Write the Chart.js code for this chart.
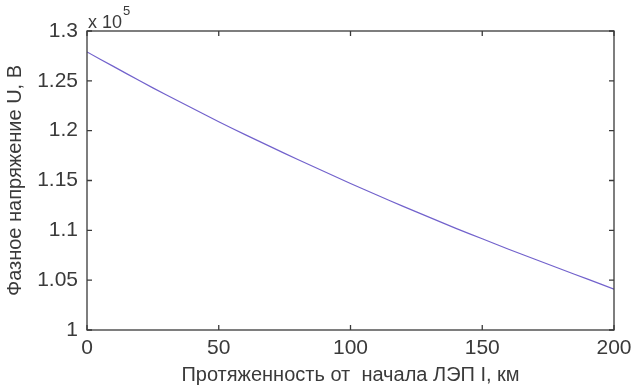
<!DOCTYPE html>
<html>
<head>
<meta charset="utf-8">
<script src="https://cdn.jsdelivr.net/npm/chart.js@4"></script>
<style>
  html, body { margin: 0; padding: 0; background: #fff; }
  #wrap { width: 631px; height: 390px; }
</style>
</head>
<body>
<div id="wrap"><canvas id="chart" width="631" height="390"></canvas></div>
<script>
// distance from the start of the line, km
const distanceKm = [0, 10, 20, 30, 40, 50, 60, 70, 80, 90, 100, 110, 120, 130, 140, 150, 160, 170, 180, 190, 200];
// phase voltage, V
const voltage = [127900, 126450, 125000, 123600, 122250, 120900, 119600, 118350, 117100, 115900, 114700,
                 113550, 112400, 111300, 110200, 109150, 108100, 107100, 106100, 105100, 104100];
const xTicks = [0, 50, 100, 150, 200];
const yTicks = [100000, 105000, 110000, 115000, 120000, 125000, 130000];

const FONT = "'Liberation Sans', Arial, sans-serif";
const INK = '#3a3a3a';

// matlab-like box with inward ticks on all four sides + the "x 10^5" multiplier
const boxPlugin = {
    id: 'box',
    afterDraw(chart) {
        const { ctx, chartArea: a, scales } = chart;
        const len = 5;
        ctx.save();
        ctx.strokeStyle = INK;
        ctx.lineWidth = 1.3;
        ctx.strokeRect(a.left, a.top, a.right - a.left, a.bottom - a.top);
        ctx.beginPath();
        xTicks.forEach(v => {
            const px = scales.x.getPixelForValue(v);
            ctx.moveTo(px, a.bottom); ctx.lineTo(px, a.bottom - len);
            ctx.moveTo(px, a.top); ctx.lineTo(px, a.top + len);
        });
        yTicks.forEach(v => {
            const py = scales.y.getPixelForValue(v);
            ctx.moveTo(a.left, py); ctx.lineTo(a.left + len, py);
            ctx.moveTo(a.right, py); ctx.lineTo(a.right - len, py);
        });
        ctx.stroke();

        ctx.fillStyle = INK;
        ctx.textBaseline = 'alphabetic';
        ctx.textAlign = 'left';
        ctx.font = '18px ' + FONT;
        ctx.fillText('x 10', a.left + 1, a.top - 3);
        const w = ctx.measureText('x 10').width;
        ctx.font = '13px ' + FONT;
        ctx.fillText('5', a.left + 2 + w, a.top - 16);
        ctx.restore();
    }
};

new Chart(document.getElementById('chart').getContext('2d'), {
    type: 'line',
    data: {
        datasets: [{
            data: distanceKm.map((d, i) => ({ x: d, y: voltage[i] })),
            borderColor: '#7262cc',
            borderWidth: 1.2,
            pointRadius: 0,
            tension: 0.3,
            fill: false
        }]
    },
    options: {
        responsive: false,
        animation: false,
        layout: { padding: { left: 0, right: 17, top: 31, bottom: 0 } },
        plugins: { legend: { display: false }, tooltip: { enabled: false } },
        scales: {
            x: {
                type: 'linear',
                min: 0,
                max: 200,
                afterFit: s => { s.height = 60; s.paddingLeft = 0; s.paddingRight = 0; },
                afterBuildTicks: s => { s.ticks = xTicks.map(v => ({ value: v })); },
                grid: { display: false, drawTicks: false },
                border: { display: false },
                ticks: { color: INK, padding: 6, maxRotation: 0, font: { family: FONT, size: 21 } },
                title: {
                    display: true,
                    text: 'Протяженность от  начала ЛЭП I, км',
                    color: INK,
                    padding: { top: 0, bottom: 3 },
                    font: { family: FONT, size: 20 }
                }
            },
            y: {
                min: 100000,
                max: 130000,
                afterFit: s => { s.width = 87; s.paddingTop = 0; s.paddingBottom = 0; },
                afterBuildTicks: s => { s.ticks = yTicks.map(v => ({ value: v })); },
                grid: { display: false, drawTicks: false },
                border: { display: false },
                ticks: {
                    color: INK,
                    padding: 9,
                    font: { family: FONT, size: 21 },
                    callback: v => String(v / 100000)
                },
                title: {
                    display: true,
                    text: 'Фазное напряжение U, В',
                    color: INK,
                    padding: { top: 3, bottom: 0 },
                    font: { family: FONT, size: 20 }
                }
            }
        }
    },
    plugins: [boxPlugin]
});
</script>
</body>
</html>
